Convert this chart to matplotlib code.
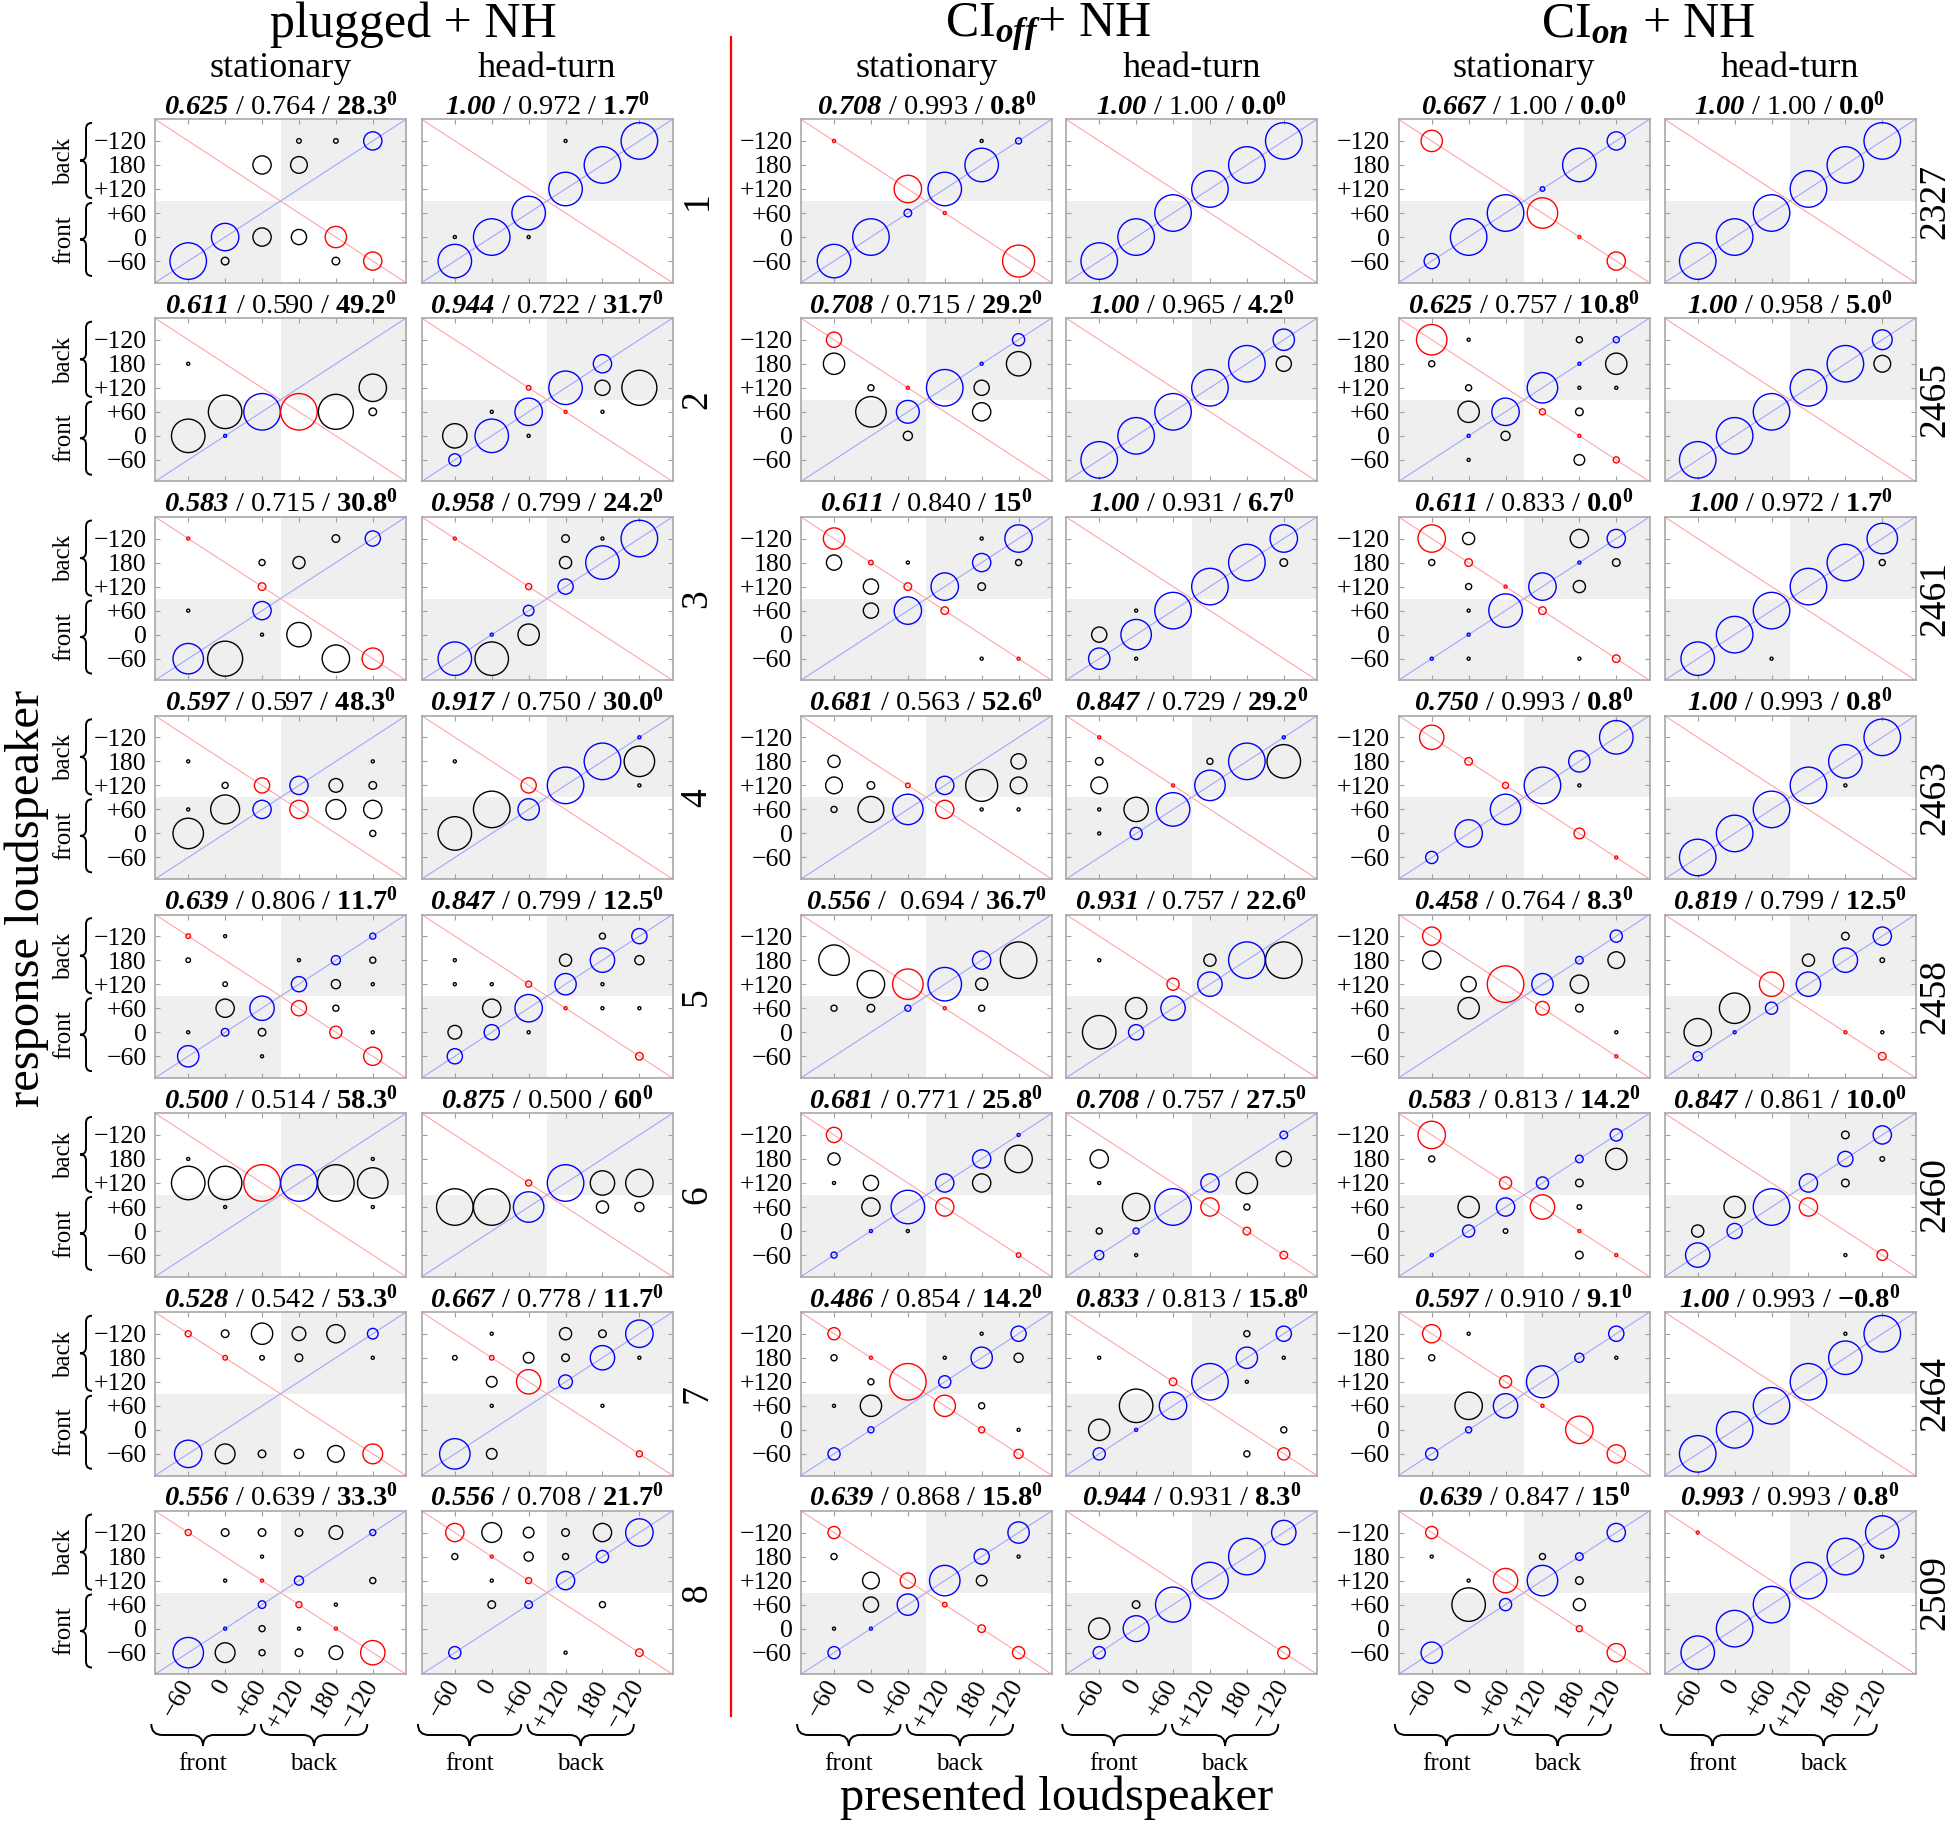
import matplotlib
matplotlib.use('Agg')
import matplotlib.pyplot as plt
import numpy as np
from matplotlib.path import Path
from matplotlib.patches import PathPatch, Rectangle
from matplotlib.lines import Line2D
from matplotlib.transforms import IdentityTransform

plt.rcParams['font.family'] = ['Liberation Serif', 'DejaVu Serif']
plt.rcParams['mathtext.fontset'] = 'custom'
plt.rcParams['mathtext.rm'] = 'Liberation Serif'
plt.rcParams['mathtext.it'] = 'Liberation Serif:italic'
plt.rcParams['mathtext.bf'] = 'Liberation Serif:bold'
try:
    plt.rcParams['mathtext.bfit'] = 'Liberation Serif:bold:italic'
    BFIT = r'\mathbfit'
except KeyError:
    BFIT = r'\mathbf'

# ---------------- data ----------------
GROUPS = ["plugged + NH", r"CI$_{" + BFIT + "{off}}$+ NH", r"CI$_{" + BFIT + "{on}}$ + NH"]
CONDITIONS = ["stationary", "head-turn"]
TICK_LABELS = ["\u221260", "0", "+60", "+120", "180", "\u2212120"]
ROW_LABELS = ["1", "2", "3", "4", "5", "6", "7", "8"]
SUBJECT_IDS = ["2327", "2465", "2461", "2463", "2458", "2460", "2464", "2509"]

# (presented index, response index, count out of 24)
PLUG_STAT = [
    [(0,0,24),(1,1,18),(1,0,5),(2,4,12),(2,1,12),(3,5,3),(3,4,11),(3,1,10),(4,5,3),(4,1,14),(4,0,5),(5,5,12),(5,0,12)],
    [(0,4,2),(0,1,22),(1,2,22),(1,1,2),(2,2,24),(3,2,24),(4,2,23),(5,3,18),(5,2,5)],
    [(0,5,2),(0,2,2),(0,0,20),(1,0,23),(2,4,4),(2,3,5),(2,2,12),(2,1,2),(3,4,8),(3,1,16),(4,5,5),(4,0,18),(5,5,10),(5,0,14)],
    [(0,4,2),(0,2,2),(0,1,20),(1,3,4),(1,2,19),(2,3,10),(2,2,12),(3,3,12),(3,2,12),(4,3,9),(4,2,13),(5,4,2),(5,3,5),(5,2,12),(5,1,4)],
    [(0,5,3),(0,4,3),(0,1,2),(0,0,14),(1,5,2),(1,3,3),(1,2,12),(1,1,5),(2,2,16),(2,1,5),(2,0,2),(3,4,2),(3,3,10),(3,2,10),
     (4,4,6),(4,3,6),(4,2,4),(4,1,8),(5,5,4),(5,4,4),(5,3,2),(5,1,2),(5,0,12)],
    [(0,4,2),(0,3,22),(1,3,22),(1,2,2),(2,3,24),(3,3,24),(4,3,24),(5,4,2),(5,3,20),(5,2,2)],
    [(0,5,4),(0,0,18),(1,5,5),(1,4,3),(1,0,13),(2,5,14),(2,4,3),(2,0,5),(3,5,9),(3,4,5),(3,0,6),(4,5,12),(4,0,11),(5,5,7),(5,4,2),(5,0,13)],
    [(0,5,4),(0,0,20),(1,5,5),(1,3,2),(1,1,2),(1,0,13),(2,5,5),(2,4,2),(2,3,2),(2,2,5),(2,1,4),(2,0,4),(3,5,5),(3,3,6),(3,2,4),
     (3,1,2),(3,0,5),(4,5,9),(4,2,2),(4,1,2),(4,0,9),(5,5,4),(5,3,4),(5,0,16)],
]
PLUG_HEAD = [
    [(0,0,22),(0,1,2),(1,1,24),(2,2,22),(2,1,2),(3,3,22),(3,5,2),(4,4,24),(5,5,24)],
    [(0,1,16),(0,0,8),(1,2,2),(1,1,22),(2,3,3),(2,2,18),(2,1,2),(3,3,22),(3,2,2),(4,4,12),(4,3,10),(4,2,2),(5,3,23)],
    [(0,5,2),(0,0,22),(1,1,2),(1,0,22),(2,3,4),(2,2,7),(2,1,14),(3,5,5),(3,4,8),(3,3,10),(4,5,2),(4,4,22),(5,5,24)],
    [(0,4,2),(0,1,22),(1,2,24),(2,3,10),(2,2,14),(3,3,24),(4,4,24),(5,5,2),(5,4,20),(5,3,2)],
    [(0,4,2),(0,3,2),(0,1,9),(0,0,10),(1,3,2),(1,2,12),(1,1,10),(2,3,4),(2,2,18),(2,1,2),(3,4,8),(3,3,14),(3,2,2),
     (4,5,4),(4,4,16),(4,3,2),(4,2,2),(5,5,10),(5,4,6),(5,2,2),(5,0,5)],
    [(0,2,24),(1,2,24),(2,3,4),(2,2,20),(3,3,24),(4,3,16),(4,2,8),(5,3,18),(5,2,6)],
    [(0,4,3),(0,0,20),(1,5,2),(1,4,3),(1,3,7),(1,2,2),(1,0,7),(2,4,7),(2,3,16),(3,5,8),(3,4,5),(3,3,9),(4,5,5),(4,4,16),(4,2,2),
     (5,5,18),(5,4,2),(5,0,4)],
    [(0,5,12),(0,4,4),(0,0,8),(1,5,13),(1,4,2),(1,3,2),(1,2,5),(2,5,7),(2,4,6),(2,3,4),(2,2,5),(3,5,5),(3,4,4),(3,3,12),(3,0,2),
     (4,5,12),(4,4,8),(4,2,4),(5,5,18),(5,0,5)],
]
CIOFF_STAT = [
    [(0,5,2),(0,0,22),(1,1,24),(2,3,18),(2,2,5),(3,3,22),(3,2,2),(4,5,2),(4,4,22),(5,5,4),(5,0,21)],
    [(0,5,10),(0,4,14),(1,3,4),(1,2,20),(2,3,2),(2,2,15),(2,1,6),(3,3,24),(4,4,2),(4,3,10),(4,2,12),(5,5,8),(5,4,16)],
    [(0,5,14),(0,4,10),(1,4,3),(1,3,10),(1,2,10),(2,4,2),(2,3,5),(2,2,18),(3,3,18),(3,2,5),(4,5,2),(4,4,12),(4,3,5),(4,0,2),
     (5,5,18),(5,4,4),(5,0,2)],
    [(0,4,8),(0,3,11),(0,2,4),(1,3,5),(1,2,17),(2,3,3),(2,2,20),(3,3,12),(3,2,12),(4,3,21),(4,2,2),(5,4,10),(5,3,11),(5,2,2)],
    [(0,4,20),(0,2,4),(1,3,18),(1,2,5),(2,3,20),(2,2,4),(3,3,22),(3,2,2),(4,4,12),(4,3,8),(4,2,4),(5,4,24)],
    [(0,5,10),(0,4,8),(0,3,2),(0,0,4),(1,3,10),(1,2,12),(1,1,2),(2,2,22),(2,1,2),(3,3,12),(3,2,12),(4,4,12),(4,3,12),
     (5,5,2),(5,4,18),(5,0,3)],
    [(0,5,8),(0,4,4),(0,2,2),(0,0,8),(1,4,2),(1,3,4),(1,2,14),(1,1,4),(2,3,24),(3,4,2),(3,3,8),(3,2,14),(4,5,2),(4,4,14),
     (4,2,4),(4,1,4),(5,5,10),(5,4,6),(5,1,2),(5,0,6)],
    [(0,5,8),(0,4,4),(0,1,2),(0,0,8),(1,3,11),(1,2,10),(1,1,2),(2,3,10),(2,2,14),(3,3,20),(3,2,3),(4,4,10),(4,3,7),(4,1,5),
     (5,5,14),(5,4,2),(5,0,8)],
]
CIOFF_HEAD = [
    [(0,0,24),(1,1,24),(2,2,24),(3,3,24),(4,4,24),(5,5,24)],
    [(0,0,24),(1,1,24),(2,2,24),(3,3,24),(4,4,24),(5,5,14),(5,4,10)],
    [(0,1,10),(0,0,14),(1,2,2),(1,1,20),(1,0,2),(2,2,24),(3,3,24),(4,4,24),(5,5,18),(5,4,5)],
    [(0,5,2),(0,4,5),(0,3,11),(0,2,2),(0,1,2),(1,2,16),(1,1,8),(2,3,2),(2,2,22),(3,4,4),(3,3,20),(4,4,24),(5,5,2),(5,4,22)],
    [(0,4,2),(0,1,22),(1,2,14),(1,1,10),(2,3,8),(2,2,16),(3,4,8),(3,3,16),(4,4,24),(5,4,24)],
    [(0,4,12),(0,3,2),(0,1,4),(0,0,6),(1,2,18),(1,1,4),(1,0,2),(2,2,24),(3,3,12),(3,2,12),(4,3,14),(4,2,4),(4,1,5),
     (5,5,5),(5,4,10),(5,0,5)],
    [(0,4,2),(0,1,14),(0,0,8),(1,2,22),(1,1,2),(2,3,5),(2,2,18),(3,3,24),(4,5,4),(4,4,14),(4,3,2),(4,0,4),(5,5,10),(5,4,2),
     (5,1,4),(5,0,8)],
    [(0,1,14),(0,0,8),(1,2,5),(1,1,17),(2,2,23),(3,3,24),(4,4,24),(5,5,16),(5,0,8)],
]
CION_STAT = [
    [(0,5,14),(0,0,10),(1,1,24),(2,2,24),(3,3,3),(3,2,20),(4,4,22),(4,1,2),(5,5,12),(5,0,12)],
    [(0,5,20),(0,4,4),(1,5,2),(1,3,4),(1,2,14),(1,1,2),(1,0,2),(2,2,18),(2,1,6),(3,3,20),(3,2,4),(4,5,4),(4,4,2),(4,3,2),
     (4,2,5),(4,1,2),(4,0,7),(5,5,4),(5,4,14),(5,3,2),(5,0,4)],
    [(0,5,18),(0,4,4),(0,0,2),(1,5,8),(1,4,5),(1,3,4),(1,2,2),(1,1,2),(1,0,2),(2,3,2),(2,2,22),(3,3,18),(3,2,5),(4,5,12),
     (4,4,2),(4,3,8),(4,0,2),(5,5,12),(5,4,5),(5,0,5)],
    [(0,5,16),(0,0,8),(1,4,5),(1,1,18),(2,3,4),(2,2,20),(3,3,24),(4,4,14),(4,3,2),(4,1,7),(5,5,22),(5,0,2)],
    [(0,5,12),(0,4,12),(1,3,10),(1,2,14),(2,3,24),(3,3,14),(3,2,9),(4,4,5),(4,3,12),(4,2,5),(5,5,8),(5,4,11),(5,1,2),(5,0,2)],
    [(0,5,18),(0,4,4),(0,0,2),(1,2,14),(1,1,8),(2,3,8),(2,2,12),(2,1,3),(3,3,8),(3,2,16),(4,4,5),(4,3,5),(4,2,3),(4,1,2),
     (4,0,5),(5,5,8),(5,4,14),(5,0,2)],
    [(0,5,12),(0,4,4),(0,0,8),(1,5,2),(1,2,18),(1,1,4),(2,3,8),(2,2,16),(3,3,21),(3,2,2),(4,4,6),(4,1,18),(5,5,10),(5,4,2),(5,0,12)],
    [(0,5,8),(0,4,2),(0,0,14),(1,3,2),(1,2,22),(2,3,16),(2,2,8),(3,4,4),(3,3,20),(4,4,5),(4,3,5),(4,2,8),(4,1,4),(5,5,12),(5,0,12)],
]
CION_HEAD = [
    [(0,0,24),(1,1,24),(2,2,24),(3,3,24),(4,4,24),(5,5,24)],
    [(0,0,24),(1,1,24),(2,2,24),(3,3,24),(4,4,24),(5,5,13),(5,4,11)],
    [(0,0,22),(1,1,24),(2,2,24),(2,0,2),(3,3,24),(4,4,24),(5,5,20),(5,4,4)],
    [(0,0,24),(1,1,24),(2,2,24),(3,3,24),(4,4,22),(4,3,2),(5,5,24)],
    [(0,1,18),(0,0,6),(1,2,20),(1,1,2),(2,3,16),(2,2,8),(3,4,8),(3,3,16),(4,5,5),(4,4,16),(4,1,2),(5,5,12),(5,4,3),(5,1,2),(5,0,5)],
    [(0,1,8),(0,0,16),(1,2,14),(1,1,10),(2,2,24),(3,3,12),(3,2,12),(4,5,5),(4,4,10),(4,3,5),(4,0,2),(5,5,12),(5,4,3),(5,0,7)],
    [(0,0,24),(1,1,24),(2,2,24),(3,3,24),(4,5,2),(4,4,22),(5,5,24)],
    [(0,5,2),(0,0,22),(1,1,24),(2,2,24),(3,3,24),(4,4,24),(5,5,22),(5,4,2)],
]

PLUG_STAT_TITLES = [("0.625","0.764","28.3"),("0.611","0.590","49.2"),("0.583","0.715","30.8"),("0.597","0.597","48.3"),
                    ("0.639","0.806","11.7"),("0.500","0.514","58.3"),("0.528","0.542","53.3"),("0.556","0.639","33.3")]
PLUG_HEAD_TITLES = [("1.00","0.972","1.7"),("0.944","0.722","31.7"),("0.958","0.799","24.2"),("0.917","0.750","30.0"),
                    ("0.847","0.799","12.5"),("0.875","0.500","60"),("0.667","0.778","11.7"),("0.556","0.708","21.7")]
CIOFF_STAT_TITLES = [("0.708","0.993","0.8"),("0.708","0.715","29.2"),("0.611","0.840","15"),("0.681","0.563","52.6"),
                     ("0.556"," 0.694","36.7"),("0.681","0.771","25.8"),("0.486","0.854","14.2"),("0.639","0.868","15.8")]
CIOFF_HEAD_TITLES = [("1.00","1.00","0.0"),("1.00","0.965","4.2"),("1.00","0.931","6.7"),("0.847","0.729","29.2"),
                     ("0.931","0.757","22.6"),("0.708","0.757","27.5"),("0.833","0.813","15.8"),("0.944","0.931","8.3")]
CION_STAT_TITLES = [("0.667","1.00","0.0"),("0.625","0.757","10.8"),("0.611","0.833","0.0"),("0.750","0.993","0.8"),
                    ("0.458","0.764","8.3"),("0.583","0.813","14.2"),("0.597","0.910","9.1"),("0.639","0.847","15")]
CION_HEAD_TITLES = [("1.00","1.00","0.0"),("1.00","0.958","5.0"),("1.00","0.972","1.7"),("1.00","0.993","0.8"),
                    ("0.819","0.799","12.5"),("0.847","0.861","10.0"),("1.00","0.993","-0.8"),("0.993","0.993","0.8")]

COLUMNS = [(PLUG_STAT, PLUG_STAT_TITLES), (PLUG_HEAD, PLUG_HEAD_TITLES),
           (CIOFF_STAT, CIOFF_STAT_TITLES), (CIOFF_HEAD, CIOFF_HEAD_TITLES),
           (CION_STAT, CION_STAT_TITLES), (CION_HEAD, CION_HEAD_TITLES)]

# ---------------- layout ----------------
W, H = 1950, 1826
DPI = 100
fig = plt.figure(figsize=(W / DPI, H / DPI), dpi=DPI)
fig.patch.set_facecolor('white')

COL_LEFT = [155.0, 421.6, 800.8, 1066.0, 1398.5, 1664.5]
PANEL_W, PANEL_H = 251.0, 163.4
ROW_TOP0, ROW_STEP = 119.3, 198.8
LIM = (-0.9, 5.9)
D_FULL = 26.3          # marker diameter (pt) of a count of 24
SHADE = '#efefef'
BLUE, RED = '#0000ff', '#ff0000'
BLUE_LINE, RED_LINE = '#a0a0ff', '#ffa0a0'
TICK_FS = 18.5
TITLE_FS = 20.5


def fx(x):
    return x / W


def fy(y):
    return 1 - y / H


def brace(t0, t1, base, depth, vertical, lw=1.4):
    t0, t1 = min(t0, t1), max(t0, t1)
    tm = (t0 + t1) / 2
    h = depth / 2
    tu = [(t0, 0), (t0, h), (t0 + h, h), (tm - h, h), (tm, h), (tm, depth),
          (tm, h), (tm + h, h), (t1 - h, h), (t1, h), (t1, 0)]
    codes = [Path.MOVETO, Path.CURVE3, Path.CURVE3, Path.LINETO, Path.CURVE3, Path.CURVE3,
             Path.CURVE3, Path.CURVE3, Path.LINETO, Path.CURVE3, Path.CURVE3]
    if vertical:
        verts = [(base - u, t) for t, u in tu]
    else:
        verts = [(t, base - u) for t, u in tu]
    fig.add_artist(PathPatch(Path(verts, codes), facecolor='none', edgecolor='black',
                             lw=lw, transform=IdentityTransform()))


def title_text(a, b, d):
    return (r"$" + BFIT + "{" + a + "}$ / " + b + r" / $\mathbf{" + d + r"}^{\mathbf{0}}$")


for c, (cells, titles) in enumerate(COLUMNS):
    for r in range(8):
        top = ROW_TOP0 + r * ROW_STEP
        ax = fig.add_axes([fx(COL_LEFT[c]), fy(top + PANEL_H), PANEL_W / W, PANEL_H / H])
        ax.set_xlim(*LIM)
        ax.set_ylim(*LIM)
        ax.add_patch(Rectangle((LIM[0], LIM[0]), 2.5 - LIM[0], 2.5 - LIM[0],
                               facecolor=SHADE, edgecolor='none', zorder=0))
        ax.add_patch(Rectangle((2.5, 2.5), LIM[1] - 2.5, LIM[1] - 2.5,
                               facecolor=SHADE, edgecolor='none', zorder=0))
        ax.axline((0, 0), (1, 1), color=BLUE_LINE, lw=0.75, zorder=1)
        ax.axline((0, 5), (5, 0), color=RED_LINE, lw=0.75, zorder=1)

        pts = cells[r]
        xs = np.array([p[0] for p in pts])
        ys = np.array([p[1] for p in pts])
        ns = np.array([p[2] for p in pts], dtype=float)
        cols = [BLUE if x == y else (RED if x + y == 5 else 'black') for x, y in zip(xs, ys)]
        ax.scatter(xs, ys, s=(ns / 24.0 * D_FULL) ** 2, facecolors='none', edgecolors=cols,
                   linewidths=1.0, zorder=3, clip_on=False)

        ax.set_xticks(range(6))
        ax.set_yticks(range(6))
        if c % 2 == 0:
            ax.set_yticklabels(TICK_LABELS, fontsize=TICK_FS)
        else:
            ax.set_yticklabels([])
        if r == 7:
            ax.set_xticklabels(TICK_LABELS, fontsize=TICK_FS, rotation=60, ha='right', va='center',
                               rotation_mode='anchor')
        else:
            ax.set_xticklabels([])
        ax.tick_params(axis='both', direction='in', length=3.5, width=0.8, color='#a0a0a0',
                       top=True, right=True, labelcolor='black')
        ax.tick_params(axis='y', pad=6)
        ax.tick_params(axis='x', pad=5)
        for s in ax.spines.values():
            s.set_color('#a8a8a8')
            s.set_linewidth(1.2)

        a, b, d = titles[r]
        ax.text(0.5, 1 + 5.0 / PANEL_H, title_text(a, b, d), transform=ax.transAxes,
                ha='center', va='baseline', fontsize=TITLE_FS)

        # left braces for plugged stationary
        if c == 0:
            yb = [ax.transData.transform((0, v))[1] for v in (2.62, 5.75, -0.62, 2.42, 4.15, 0.91)]
            brace(yb[0], yb[1], 92, 12, True)
            brace(yb[2], yb[3], 92, 12, True)
            fig.text(fx(64), yb[4] / H, "back", rotation=90, ha='center', va='center', fontsize=18)
            fig.text(fx(64), yb[5] / H, "front", rotation=90, ha='center', va='center', fontsize=18)
        if c == 1:
            fig.text(fx(697), fy(top + PANEL_H / 2), ROW_LABELS[r], rotation=90,
                     ha='center', va='center', fontsize=27)
        if c == 5:
            fig.text(fx(1935), fy(top + PANEL_H / 2), SUBJECT_IDS[r], rotation=90,
                     ha='center', va='center', fontsize=27)

        # bottom braces
        if r == 7:
            xb = [ax.transData.transform((v, 0))[0] for v in (-1.0, 1.8, 1.97, 4.85, 0.4, 3.4)]
            base = H - 1724
            brace(xb[0], xb[1], base, 22, False)
            brace(xb[2], xb[3], base, 22, False)
            fig.text(xb[4] / W, fy(1764), "front", ha='center', va='center', fontsize=18)
            fig.text(xb[5] / W, fy(1764), "back", ha='center', va='center', fontsize=18)

# headers
for g, (name, xc) in enumerate(zip(GROUPS, [413, 1048, 1648])):
    fig.text(fx(xc), fy(37), name, ha='center', va='baseline', fontsize=36)
for c in range(6):
    xc = COL_LEFT[c] + PANEL_W / 2
    fig.text(fx(xc), fy(77), CONDITIONS[c % 2], ha='center', va='baseline', fontsize=26)

fig.text(fx(27), fy(898), "response loudspeaker", rotation=90, ha='center', va='center', fontsize=35)
fig.text(fx(1057), fy(1798), "presented loudspeaker", ha='center', va='center', fontsize=35)

fig.add_artist(Line2D([fx(731), fx(731)], [fy(37), fy(1716)], color='red', lw=1.6,
                      transform=fig.transFigure))

fig.savefig('out.png', dpi=DPI, facecolor='white')
